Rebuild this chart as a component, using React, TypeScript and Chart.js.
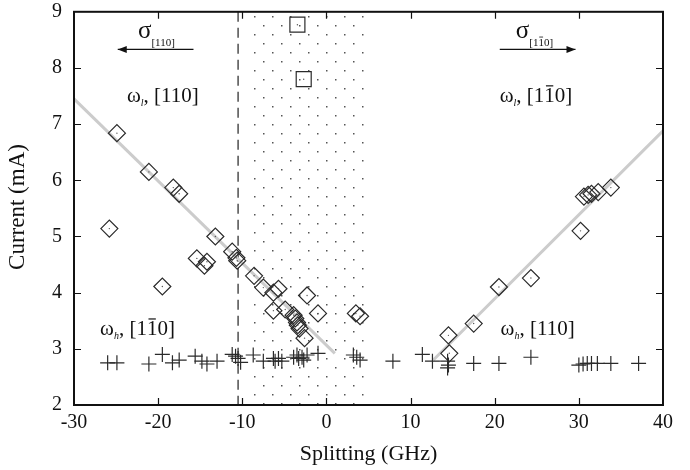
import React, { useEffect, useRef } from 'react';
import { Chart, registerables } from 'chart.js';

Chart.register(...registerables);

// ---- data ----
const diamondX = [
  -24.9, -21.1, -18.2, -17.5, -25.8, -13.2, -15.4, -14.2, -14.5, -19.5,
  -11.2, -10.7, -10.6, -8.6, -7.5, -6.3, -5.7, -2.3, -6.3, -4.9,
  -1.0, -3.9, -3.7, -3.5, -3.4, -3.2, -2.6, 3.5, 4.0,
  14.5, 14.6, 17.5, 20.5, 24.3, 30.2, 30.6, 31.1, 31.5, 32.3, 33.8,
];
const diamondY = [
  6.84, 6.15, 5.87, 5.76, 5.14, 5.0, 4.61, 4.55, 4.48, 4.11,
  4.73, 4.62, 4.57, 4.3, 4.09, 4.0, 4.07, 3.95, 3.68, 3.7,
  3.63, 3.6, 3.54, 3.47, 3.42, 3.36, 3.19, 3.63, 3.58,
  3.24, 2.92, 3.45, 4.1, 4.26, 5.1, 5.71, 5.74, 5.76, 5.79, 5.87,
];
const crossX = [
  -26.0, -24.9, -21.1, -19.5, -18.3, -17.5, -15.6, -14.8, -14.2, -13.0,
  -11.2, -10.8, -10.5, -10.2, -8.7, -7.5, -6.3, -6.1, -5.7, -5.3,
  -3.9, -3.5, -3.3, -2.9, -2.7, -2.3, -1.0, 3.2, 3.6, 4.0,
  7.9, 11.4, 12.6, 14.4, 14.5, 14.4, 17.5, 20.5, 24.3, 30.0,
  30.5, 31.0, 31.5, 32.2, 33.8, 37.1,
];
const crossY = [
  2.75, 2.75, 2.73, 2.9, 2.75, 2.8, 2.87, 2.78, 2.73, 2.78,
  2.9, 2.87, 2.83, 2.76, 2.89, 2.78, 2.83, 2.78, 2.83, 2.78,
  2.85, 2.89, 2.83, 2.85, 2.8, 2.89, 2.92, 2.89, 2.85, 2.8,
  2.78, 2.9, 2.78, 2.78, 2.71, 2.66, 2.74, 2.74, 2.85, 2.71,
  2.73, 2.74, 2.74, 2.74, 2.74, 2.74,
];
const squareX = [-3.45, -2.7];
const squareY = [8.77, 7.8];
const leftFitX = [-30, 1];
const leftFitY = [7.45, 2.92];
const rightFitX = [12.7, 40];
const rightFitY = [2.8, 6.88];
const shadeRange = [-9, 5];
const dashedX = -10.5;
const xTicks = [-30, -20, -10, 0, 10, 20, 30, 40];
const yTicks = [2, 3, 4, 5, 6, 7, 8, 9];

const FONT = '"Liberation Serif", "Times New Roman", serif';
const pts = (xs: number[], ys: number[]) => xs.map((v, i) => ({ x: v, y: ys[i] }));

type Part = { t: string; size: number; dy?: number; italic?: boolean; bar?: boolean };

function drawRich(ctx: CanvasRenderingContext2D, x: number, y: number, parts: Part[]) {
  let cx = x;
  ctx.textAlign = 'left';
  ctx.textBaseline = 'alphabetic';
  for (const p of parts) {
    ctx.font = `${p.italic ? 'italic ' : ''}${p.size}px ${FONT}`;
    const w = ctx.measureText(p.t).width;
    const by = y + (p.dy || 0);
    ctx.fillText(p.t, cx, by);
    if (p.bar) {
      ctx.beginPath();
      ctx.lineWidth = p.size > 14 ? 1.2 : 0.8;
      const ly = by - p.size * 0.78;
      ctx.moveTo(cx + w * 0.15, ly);
      ctx.lineTo(cx + w * 0.85, ly);
      ctx.stroke();
    }
    cx += w;
  }
}

function arrow(ctx: CanvasRenderingContext2D, x0: number, x1: number, y: number) {
  ctx.beginPath();
  ctx.lineWidth = 1.2;
  ctx.moveTo(x0, y);
  ctx.lineTo(x1, y);
  ctx.stroke();
  const d = Math.sign(x1 - x0);
  ctx.beginPath();
  ctx.moveTo(x1, y);
  ctx.lineTo(x1 - d * 9, y - 3.5);
  ctx.lineTo(x1 - d * 9, y + 3.5);
  ctx.closePath();
  ctx.fill();
}

const decor = {
  id: 'decor',
  beforeDatasetsDraw(chart: any) {
    const { ctx, chartArea: a, scales } = chart;
    const x = scales.x;
    ctx.save();
    // dotted band
    const xl = x.getPixelForValue(shadeRange[0]);
    const xr = x.getPixelForValue(shadeRange[1]);
    ctx.fillStyle = '#555';
    let row = 0;
    for (let yy = a.top + 4; yy < a.bottom; yy += 9, row++) {
      for (let xx = xl + 3 + (row % 2 ? 9 : 0); xx < xr; xx += 18) {
        ctx.fillRect(Math.round(xx), Math.round(yy), 1.5, 1.5);
      }
    }
    // dashed line
    const dx = x.getPixelForValue(dashedX);
    ctx.strokeStyle = '#222';
    ctx.lineWidth = 1.2;
    ctx.setLineDash([10, 6]);
    ctx.beginPath();
    ctx.moveTo(dx, a.top);
    ctx.lineTo(dx, a.bottom);
    ctx.stroke();
    ctx.restore();
  },
  afterDraw(chart: any) {
    const { ctx, chartArea: a, scales } = chart;
    const x = scales.x;
    const y = scales.y;
    ctx.save();
    ctx.strokeStyle = '#111';
    ctx.fillStyle = '#111';
    ctx.lineWidth = 1.2;
    const tl = 7;
    ctx.beginPath();
    for (const v of xTicks) {
      const px = Math.round(x.getPixelForValue(v)) + 0.5;
      if (px <= a.left + 1 || px >= a.right - 1) continue;
      ctx.moveTo(px, a.bottom);
      ctx.lineTo(px, a.bottom - tl);
      ctx.moveTo(px, a.top);
      ctx.lineTo(px, a.top + tl);
    }
    for (const v of yTicks) {
      const py = Math.round(y.getPixelForValue(v)) + 0.5;
      if (py <= a.top + 1 || py >= a.bottom - 1) continue;
      ctx.moveTo(a.left, py);
      ctx.lineTo(a.left + tl, py);
      ctx.moveTo(a.right, py);
      ctx.lineTo(a.right - tl, py);
    }
    ctx.stroke();
    ctx.lineWidth = 2;
    ctx.strokeRect(a.left, a.top, a.right - a.left, a.bottom - a.top);

    // axis titles
    ctx.font = `22px ${FONT}`;
    ctx.textAlign = 'center';
    ctx.textBaseline = 'middle';
    ctx.fillText('Splitting (GHz)', (a.left + a.right) / 2, 454);
    ctx.save();
    ctx.translate(18, 207);
    ctx.rotate(-Math.PI / 2);
    ctx.font = `23px ${FONT}`;
    ctx.fillText('Current (mA)', 0, 0);
    ctx.restore();

    const X = (v: number) => x.getPixelForValue(v);
    const Y = (v: number) => y.getPixelForValue(v);

    // sigma labels and arrows
    drawRich(ctx, X(-22.4), Y(8.54), [
      { t: 'σ', size: 25 },
      { t: '[110]', size: 11, dy: 8 },
    ]);
    drawRich(ctx, X(22.5), Y(8.54), [
      { t: 'σ', size: 25 },
      { t: '[1', size: 11, dy: 8 },
      { t: '1', size: 11, dy: 8, bar: true },
      { t: '0]', size: 11, dy: 8 },
    ]);
    arrow(ctx, X(-15.8), X(-24.8), Y(8.33));
    arrow(ctx, X(20.6), X(29.6), Y(8.33));

    // omega labels
    drawRich(ctx, X(-23.7), Y(7.39), [
      { t: 'ω', size: 21 },
      { t: 'l', size: 10, dy: 4, italic: true },
      { t: ', [110]', size: 21 },
    ]);
    drawRich(ctx, X(20.6), Y(7.39), [
      { t: 'ω', size: 21 },
      { t: 'l', size: 10, dy: 4, italic: true },
      { t: ', [1', size: 21 },
      { t: '1', size: 21, bar: true },
      { t: '0]', size: 21 },
    ]);
    drawRich(ctx, X(-26.9), Y(3.24), [
      { t: 'ω', size: 21 },
      { t: 'h', size: 10, dy: 4, italic: true },
      { t: ', [1', size: 21 },
      { t: '1', size: 21, bar: true },
      { t: '0]', size: 21 },
    ]);
    drawRich(ctx, X(20.7), Y(3.24), [
      { t: 'ω', size: 21 },
      { t: 'h', size: 10, dy: 4, italic: true },
      { t: ', [110]', size: 21 },
    ]);
    ctx.restore();
  },
};

export default function App() {
  const ref = useRef<HTMLCanvasElement | null>(null);
  useEffect(() => {
    if (!ref.current) return;
    const markerColor = '#2a2a2a';
    const chart = new Chart(ref.current, {
      type: 'scatter',
      data: {
        datasets: [
          {
            type: 'line',
            data: pts(leftFitX, leftFitY),
            borderColor: '#cccccc',
            borderWidth: 3,
            pointRadius: 0,
            order: 10,
          } as any,
          {
            type: 'line',
            data: pts(rightFitX, rightFitY),
            borderColor: '#cccccc',
            borderWidth: 3,
            pointRadius: 0,
            order: 10,
          } as any,
          {
            data: pts(crossX, crossY),
            pointStyle: 'cross',
            pointRadius: 7.5,
            borderColor: markerColor,
            borderWidth: 1.2,
            order: 3,
          },
          {
            data: pts(diamondX, diamondY),
            pointStyle: 'rectRot',
            pointRadius: 8.5,
            borderColor: markerColor,
            backgroundColor: 'rgba(0,0,0,0)',
            borderWidth: 1.2,
            order: 2,
          },
          {
            data: pts(squareX, squareY),
            pointStyle: 'rect',
            pointRadius: 10.6,
            borderColor: markerColor,
            backgroundColor: 'rgba(0,0,0,0)',
            borderWidth: 1.2,
            order: 2,
          },
          {
            data: pts(diamondX.concat(squareX), diamondY.concat(squareY)),
            pointStyle: 'circle',
            pointRadius: 0.7,
            borderWidth: 0,
            backgroundColor: '#555',
            order: 1,
          },
        ],
      },
      options: {
        responsive: false,
        animation: false,
        events: [],
        layout: { padding: { top: 10, right: 27, left: 0, bottom: 0 } },
        plugins: { legend: { display: false }, tooltip: { enabled: false } },
        scales: {
          x: {
            type: 'linear',
            min: -30,
            max: 40,
            grid: { display: false, drawTicks: false },
            border: { display: false },
            afterBuildTicks: (s: any) => {
              s.ticks = xTicks.map((v) => ({ value: v }));
            },
            afterFit: (s: any) => {
              s.height = 65;
              s.paddingLeft = 0;
              s.paddingRight = 0;
            },
            ticks: {
              padding: 6,
              color: '#111',
              font: { family: FONT, size: 20 },
              maxRotation: 0,
            },
          },
          y: {
            type: 'linear',
            min: 2,
            max: 9,
            grid: { display: false, drawTicks: false },
            border: { display: false },
            afterBuildTicks: (s: any) => {
              s.ticks = yTicks.map((v) => ({ value: v }));
            },
            afterFit: (s: any) => {
              s.width = 74;
              s.paddingTop = 0;
              s.paddingBottom = 0;
            },
            ticks: {
              padding: 12,
              color: '#111',
              font: { family: FONT, size: 20 },
            },
          },
        },
      },
      plugins: [decor],
    });
    return () => chart.destroy();
  }, []);
  return (
    <div style={{ position: 'absolute', left: 0, top: 0, width: 690, height: 470, background: '#fff' }}>
      <canvas ref={ref} width={690} height={470} style={{ width: 690, height: 470, display: 'block' }} />
    </div>
  );
}
